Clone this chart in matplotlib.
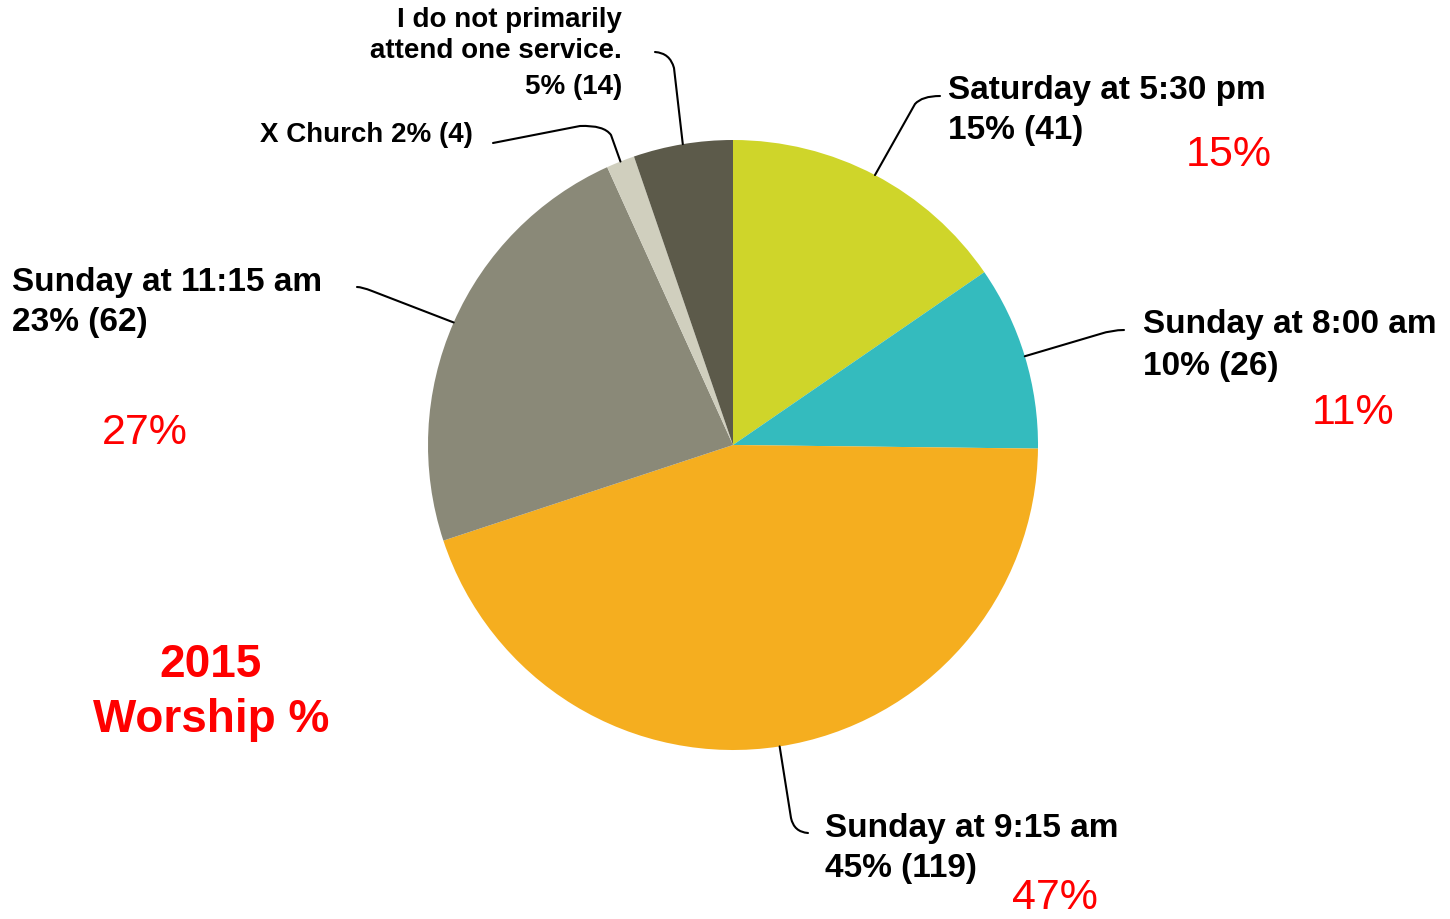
import matplotlib
matplotlib.use("Agg")
import matplotlib.pyplot as plt
import numpy as np
from matplotlib.path import Path
from matplotlib.patches import PathPatch

categories = ["Saturday at 5:30 pm", "Sunday at 8:00 am", "Sunday at 9:15 am",
              "Sunday at 11:15 am", "X Church", "I do not primarily attend one service."]
counts = [41, 26, 119, 62, 4, 14]
pct_labels = ["15%", "10%", "45%", "23%", "2%", "5%"]
prev_pct = ["15%", "11%", "47%", "27%"]
colors = ["#CFD52A", "#34BBBE", "#F5AE1F", "#8A8978", "#D0CFBE", "#5C5A4A"]

W, H = 1450, 919
fig = plt.figure(figsize=(W / 100, H / 100), dpi=100)
ax = fig.add_axes([0, 0, 1, 1])
cx, cy, R = 733, 445, 305

wedges, _ = ax.pie(counts, colors=colors, center=(cx, cy), radius=R,
                   startangle=-90, counterclock=True,
                   wedgeprops=dict(linewidth=0))
ax.set_xlim(0, W)
ax.set_ylim(H, 0)
ax.set_aspect("equal")
ax.axis("off")

def mid_point(w):
    th = np.deg2rad((w.theta1 + w.theta2) / 2)
    return (cx + R * np.cos(th), cy + R * np.sin(th))

# leader lines: start on wedge, then straight segment, then rounded corner
leaders = [
    [(915, 104), (922, 96), (940, 96)],
    [(1100, 334), (1112, 330), (1124, 330)],
    [(791, 818), (794, 832), (808, 833)],
    [(372, 291), (362, 287), (357, 287)],
    [(611, 135), (604, 125), (580, 126), (493, 143)],
    [(674, 68), (670, 53), (655, 52)],
]
for w, pts in zip(wedges, leaders):
    s = mid_point(w)
    verts = [s] + pts
    if len(pts) == 3:
        codes = [Path.MOVETO, Path.LINETO, Path.CURVE3, Path.CURVE3]
    else:
        codes = [Path.MOVETO, Path.LINETO, Path.CURVE3, Path.CURVE3, Path.LINETO]
    ax.add_patch(PathPatch(Path(verts, codes), fill=False, lw=1.5, ec="black",
                           capstyle="round"))

big = dict(fontsize=24, fontweight="bold", family="Liberation Sans", color="black",
           ha="left", va="center")
big_pos = [(948, 91, 130), (1143, 325, 366), (825, 828, 868), (12, 282, 322)]
for i, (x, y1, y2) in enumerate(big_pos):
    ax.text(x, y1, categories[i], **big)
    ax.text(x, y2, f"{pct_labels[i]} ({counts[i]})", **big)

small = dict(fontsize=20, fontweight="bold", family="Liberation Sans", color="black",
             ha="right", va="center")
ax.text(473, 135, f"{categories[4]} {pct_labels[4]} ({counts[4]})", **small)
ax.text(622, 20, "I do not primarily", **small)
ax.text(622, 51, "attend one service.", **small)
ax.text(622, 87, f"{pct_labels[5]} ({counts[5]})", **small)

red = dict(fontsize=31, family="Liberation Sans", color="#FF0000", ha="center", va="center")
ax.text(1229, 155, prev_pct[0], **red)
ax.text(1353, 413, prev_pct[1], **red)
ax.text(1055, 898, prev_pct[2], **red)
ax.text(145, 433, prev_pct[3], **red)

title = dict(fontsize=33, fontweight="bold", family="Liberation Sans", color="#FF0000",
             ha="center", va="center")
ax.text(211, 665, "2015", **title)
ax.text(211, 720, "Worship %", **title)

fig.savefig("out.png", dpi=100)
